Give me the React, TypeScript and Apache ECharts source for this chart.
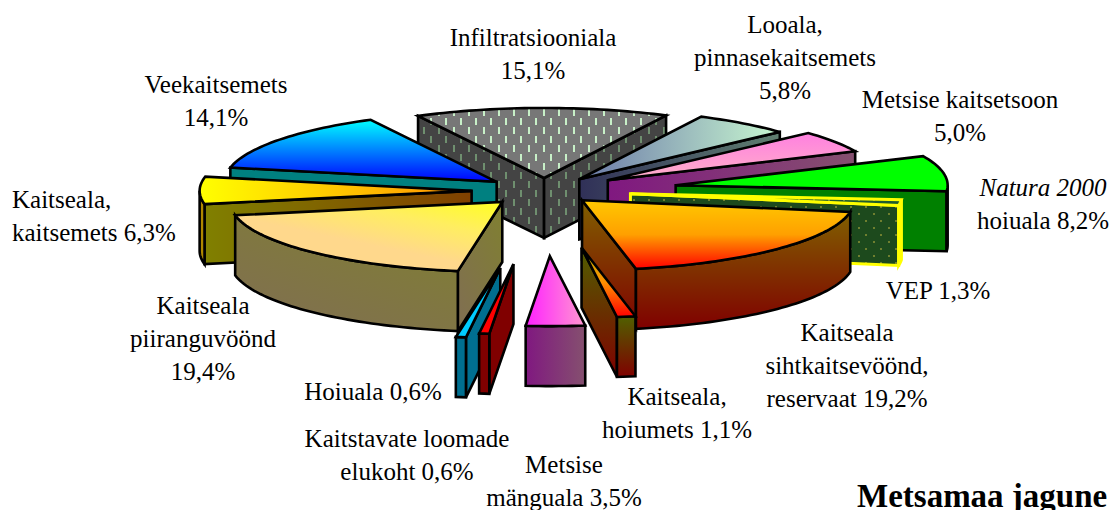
import React, { useEffect, useRef } from "react";
import * as echarts from "echarts";

const categories = ["Infiltratsiooniala","Looala, pinnasekaitsemets","Metsise kaitsetsoon","Natura 2000 hoiuala","VEP","Kaitseala sihtkaitsevöönd, reservaat","Kaitseala, hoiumets","Metsise mänguala","Kaitstavate loomade elukoht","Hoiuala","Kaitseala piiranguvöönd","Kaitseala, kaitsemets","Veekaitsemets"];
const shares = [15.1, 5.8, 5.0, 8.2, 1.3, 19.2, 1.1, 3.5, 0.6, 0.6, 19.4, 6.3, 14.1];
const explode = [0.186, 0.21, 0.276, 0.484, 0.315, 0.19, 0.82, 0.93, 1.05, 1.11, 0.22, 0.265, 0.218];

const labelLines = [
  ["Infiltratsiooniala", "15,1%"],
  ["Looala,", "pinnasekaitsemets", "5,8%"],
  ["Metsise kaitsetsoon", "5,0%"],
  ["{i|Natura 2000}", "hoiuala 8,2%"],
  ["VEP 1,3%"],
  ["Kaitseala", "sihtkaitsevöönd,", "reservaat 19,2%"],
  ["Kaitseala,", "hoiumets 1,1%"],
  ["Metsise", "mänguala 3,5%"],
  ["Kaitstavate loomade", "elukoht 0,6%"],
  ["Hoiuala 0,6%"],
  ["Kaitseala", "piiranguvöönd", "19,4%"],
  ["Kaitseala,", "kaitsemets 6,3%"],
  ["Veekaitsemets", "14,1%"],
];
const titleText = "Metsamaa jagune";

// label anchor: x, middle y, align
const labelPos: [number, number, string][] = [
  [533, 54, "center"], [785, 57, "center"], [960, 116, "center"], [1043, 204, "center"],
  [938, 290, "center"], [847, 365, "center"], [677, 413, "center"], [564, 481, "center"],
  [407, 455, "center"], [373, 391, "center"], [203, 338, "center"], [12, 216, "left"], [216, 101, "center"],
];

const CX = 544.5, CY = 191, EX = 275, RX = 272, RY = 70, H = 60, START = -27.6;
const FONT = "'Liberation Serif', serif";
const LABEL_SIZE = 25;

const lin = (x: number, y: number, x2: number, y2: number, ...cols: [number, string][]) =>
  new echarts.graphic.LinearGradient(x, y, x2, y2, cols.map(([offset, color]) => ({ offset, color })));

function patternFill(bg: string, fg: string, kind: "dash" | "dot") {
  const c = document.createElement("canvas");
  const w = kind === "dash" ? 15 : 15, h = kind === "dash" ? 18 : 14;
  c.width = w; c.height = h;
  const g = c.getContext("2d")!;
  g.fillStyle = bg; g.fillRect(0, 0, w, h);
  g.fillStyle = fg;
  if (kind === "dash") {
    g.fillRect(3, 1, 2, 7); g.fillRect(10, 10, 2, 7);
  } else {
    g.fillRect(3, 3, 2, 2); g.fillRect(10, 10, 2, 2);
  }
  return { image: c.toDataURL(), repeat: "repeat", imageWidth: w, imageHeight: h };
}

function makeStyles() {
  const h = (a: string, b: string) => lin(0, 0, 1, 0, [0, a], [1, b]);
  const v = (a: string, b: string) => lin(0, 0, 0, 1, [0, a], [1, b]);
  return [
    { top: patternFill("#777777", "#c8f0c8", "dash"), wall: patternFill("#444444", "#6f8f6f", "dash") },
    { top: h("#6a78a8", "#c8f8d0"), wall: h("#303058", "#608070") },
    { top: v("#ff80e0", "#ffb0c8"), wall: h("#801880", "#85506f") },
    { top: "#00ff00", wall: "#008000" },
    { top: patternFill("#1f5c2f", "#6f8f3f", "dot"), wall: patternFill("#1d4a1d", "#6f7f2f", "dot"), stroke: "#ffff00" },
    { top: lin(0, 0, 0, 1, [0, "#ffc800"], [0.5, "#ffa000"], [1, "#ff0000"]), wall: v("#806000", "#800000") },
    { top: lin(0, 0, 0, 1, [0, "#b0b000"], [0.5, "#ff9000"], [1, "#ff0000"]), wall: v("#506000", "#800000") },
    { top: h("#ff20ff", "#ff98d0"), wall: h("#801880", "#85506f") },
    { top: "#ff0000", wall: "#800000" },
    { top: "#00ccff", wall: "#006f90" },
    { top: lin(1, 0, 0.2, 1, [0, "#ffff20"], [0.3, "#ffee60"], [0.62, "#ffd88c"], [1, "#ffd88c"]), wall: lin(1, 0, 0.3, 1, [0, "#808030"], [1, "#80704f"]) },
    { top: h("#ffff00", "#ff9000"), wall: h("#808000", "#804000"), arcWall: "#b08800" },
    { top: v("#00ffff", "#0000ff"), wall: "#008080" },
  ];
}

export default function App() {
  const ref = useRef<HTMLDivElement>(null);
  useEffect(() => {
    const chart = echarts.init(ref.current!, undefined, { renderer: "svg" });
    const total = shares.reduce((a, b) => a + b, 0);
    const rad = (d: number) => (d * Math.PI) / 180;
    let acc = START;
    const spans = shares.map((s) => {
      const a0 = acc;
      acc += (s / total) * 360;
      return [a0, acc];
    });
    const order = shares.map((_, i) => i).sort((p, q) => {
      const m = (i: number) => Math.cos(rad((spans[i][0] + spans[i][1]) / 2));
      return m(q) - m(p);
    });
    const styles = makeStyles();

    const renderItem = (_: any, api: any) => {
      const i = api.value(0) as number;
      const [a0, a1] = spans[i];
      const mid = (a0 + a1) / 2;
      const ox = CX + explode[i] * EX * Math.sin(rad(mid));
      const oy = CY - explode[i] * RY * Math.cos(rad(mid));
      const pt = (a: number, dz = 0) => [ox + RX * Math.sin(rad(a)), oy - RY * Math.cos(rad(a)) + dz];
      const arc = (from: number, to: number, dz = 0) => {
        const n = Math.max(2, Math.ceil(Math.abs(to - from) / 1.5));
        const out: number[][] = [];
        for (let k = 0; k <= n; k++) out.push(pt(from + ((to - from) * k) / n, dz));
        return out;
      };
      const st: any = styles[i];
      const stroke = st.stroke || "#000000";
      const poly = (points: number[][], fill: any) => ({
        type: "polygon",
        shape: { points },
        style: { fill, stroke, lineWidth: st.stroke ? 3 : 2.6, lineJoin: "miter" },
      });
      const children: any[] = [];
      const visible = (n: number) => Math.cos(rad(n)) < 0;
      if (visible(a0 - 90)) children.push(poly([[ox, oy], pt(a0), pt(a0, H), [ox, oy + H]], st.wall));
      if (visible(a1 + 90)) children.push(poly([[ox, oy], pt(a1), pt(a1, H), [ox, oy + H]], st.wall));
      // outer wall: the part of the rim that faces the viewer
      const f0 = Math.max(a0, 90), f1 = Math.min(a1, 270);
      if (f1 > f0) children.push(poly([...arc(f0, f1), ...arc(f1, f0, H)], st.arcWall || st.wall));
      children.push(poly([[ox, oy], ...arc(a0, a1)], st.top));
      return { type: "group", children };
    };

    const textGraphics = labelLines.map((lines, i) => ({
      type: "text",
      z: 20,
      x: labelPos[i][0],
      y: labelPos[i][1],
      silent: true,
      style: {
        text: lines.join("\n"),
        fontFamily: FONT,
        fontSize: LABEL_SIZE,
        lineHeight: 33,
        fill: "#000000",
        align: labelPos[i][2],
        verticalAlign: "middle",
        rich: { i: { fontStyle: "italic", fontFamily: FONT, fontSize: LABEL_SIZE, lineHeight: 33 } },
      },
    }));

    chart.setOption({
      animation: false,
      backgroundColor: "#ffffff",
      graphic: [
        ...textGraphics,
        {
          type: "text", z: 20, x: 857, y: 496, silent: true,
          style: { text: titleText, fontFamily: FONT, fontSize: 33, fontWeight: "bold", fill: "#000000", align: "left", verticalAlign: "middle" },
        },
      ],
      series: [
        {
          type: "custom",
          coordinateSystem: "none",
          silent: true,
          data: order.map((i) => ({ name: categories[i], value: [i, shares[i]] })),
          renderItem,
        },
      ],
    });
    return () => chart.dispose();
  }, []);
  return <div ref={ref} style={{ position: "absolute", left: 0, top: 0, width: 1113, height: 510, overflow: "hidden" }} />;
}
